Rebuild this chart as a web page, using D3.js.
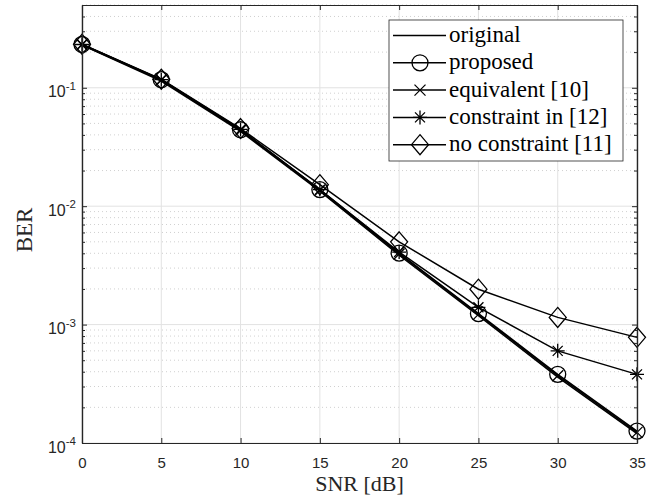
<!DOCTYPE html>
<html>
<head>
<meta charset="utf-8">
<script src="https://cdn.jsdelivr.net/npm/d3@7"></script>
<style>
  body { margin: 0; background: #fff; }
  svg { display: block; }
</style>
</head>
<body>
<div id="chart"></div>
<script>
// SNR [dB] values on the x axis
var snr = [0, 5, 10, 15, 20, 25, 30, 35];

// BER for each scheme
var berOriginal     = [0.229, 0.114, 0.0428, 0.0134, 0.00385, 0.00119, 0.00036, 0.000120];
var berProposed     = [0.232, 0.117, 0.0442, 0.0138, 0.00402, 0.00124, 0.00038, 0.000126];
var berEquivalent   = [0.231, 0.116, 0.0436, 0.0136, 0.00395, 0.00122, 0.00037, 0.000123];
var berConstraint   = [0.232, 0.117, 0.0445, 0.0138, 0.00410, 0.00140, 0.00060, 0.000380];
var berNoConstraint = [0.233, 0.118, 0.0452, 0.0152, 0.00500, 0.00199, 0.00115, 0.000780];

var legendLabels = ["original", "proposed", "equivalent [10]", "constraint in [12]", "no constraint [11]"];
var markerTypes  = ["none", "circle", "cross", "star", "diamond"];
var xTicks = [0, 5, 10, 15, 20, 25, 30, 35];
var yMajor = [1e-4, 1e-3, 1e-2, 1e-1];

var series = [berOriginal, berProposed, berEquivalent, berConstraint, berNoConstraint];

var W = 662, H = 501;
var margin = {top: 5, right: 25, bottom: 58, left: 82};
var width = W - margin.left - margin.right,
    height = H - margin.top - margin.bottom;

var axisColor = "#262626";

var svg = d3.select("#chart").append("svg")
    .attr("width", W)
    .attr("height", H);

var g = svg.append("g")
    .attr("transform", "translate(" + margin.left + "," + margin.top + ")");

var x = d3.scaleLinear().domain([0, 35]).range([0, width]);
var y = d3.scaleLog().domain([1e-4, 0.5]).range([height, 0]);

// minor values 2..9 per decade
var yMinor = [];
[1e-4, 1e-3, 1e-2, 1e-1].forEach(function (d) {
    for (var k = 2; k <= 9; k++) {
        var v = d * k;
        if (v <= 0.5) yMinor.push(v);
    }
});

// grid
var grid = g.append("g");
grid.selectAll(".minor").data(yMinor).enter().append("line")
    .attr("x1", 0).attr("x2", width)
    .attr("y1", function (d) { return y(d); })
    .attr("y2", function (d) { return y(d); })
    .attr("stroke", "#c4c4c4")
    .attr("stroke-width", 0.8)
    .attr("stroke-dasharray", "1,3");
grid.selectAll(".xg").data(xTicks).enter().append("line")
    .attr("x1", function (d) { return x(d); })
    .attr("x2", function (d) { return x(d); })
    .attr("y1", 0).attr("y2", height)
    .attr("stroke", "#e2e2e2")
    .attr("stroke-width", 1);
grid.selectAll(".yg").data(yMajor).enter().append("line")
    .attr("x1", 0).attr("x2", width)
    .attr("y1", function (d) { return y(d); })
    .attr("y2", function (d) { return y(d); })
    .attr("stroke", "#e2e2e2")
    .attr("stroke-width", 1);

// lines
var line = d3.line()
    .x(function (d, i) { return x(snr[i]); })
    .y(function (d) { return y(d); });

series.forEach(function (s) {
    g.append("path")
        .datum(s)
        .attr("fill", "none")
        .attr("stroke", "#000")
        .attr("stroke-width", 1.5)
        .attr("d", line);
});

// markers
function drawMarker(sel, type) {
    if (type === "circle") {
        sel.append("circle").attr("r", 8)
            .attr("fill", "none").attr("stroke", "#000").attr("stroke-width", 1.3);
    } else if (type === "cross") {
        sel.append("path").attr("d", "M-5.5,-5.5L5.5,5.5M-5.5,5.5L5.5,-5.5")
            .attr("stroke", "#000").attr("stroke-width", 1.3);
    } else if (type === "star") {
        sel.append("path").attr("d", "M-7,0L7,0M0,-7L0,7M-5,-5L5,5M-5,5L5,-5")
            .attr("stroke", "#000").attr("stroke-width", 1.3);
    } else if (type === "diamond") {
        sel.append("path").attr("d", "M0,-10L8.5,0L0,10L-8.5,0Z")
            .attr("fill", "none").attr("stroke", "#000").attr("stroke-width", 1.3);
    }
}

series.forEach(function (s, si) {
    if (markerTypes[si] === "none") return;
    s.forEach(function (v, i) {
        var m = g.append("g").attr("transform", "translate(" + x(snr[i]) + "," + y(v) + ")");
        drawMarker(m, markerTypes[si]);
    });
});

// axes (ticks pointing inward, box on all sides)
var fontSans = "'Liberation Sans', Arial, Helvetica, sans-serif";

var xAxis = g.append("g")
    .attr("transform", "translate(0," + height + ")")
    .call(d3.axisBottom(x).tickValues(xTicks).tickSizeInner(-5).tickSizeOuter(0).tickPadding(14));
var xAxisTop = g.append("g")
    .call(d3.axisTop(x).tickValues(xTicks).tickSizeInner(-5).tickSizeOuter(0).tickFormat(""));

var yAxis = g.append("g")
    .call(d3.axisLeft(y).tickValues(yMajor).tickSizeInner(-5).tickSizeOuter(0).tickFormat(""));
var yAxisMinor = g.append("g")
    .call(d3.axisLeft(y).tickValues(yMinor).tickSizeInner(-3).tickSizeOuter(0).tickFormat(""));
var yAxisR = g.append("g")
    .attr("transform", "translate(" + width + ",0)")
    .call(d3.axisRight(y).tickValues(yMajor).tickSizeInner(-5).tickSizeOuter(0).tickFormat(""));
var yAxisRMinor = g.append("g")
    .attr("transform", "translate(" + width + ",0)")
    .call(d3.axisRight(y).tickValues(yMinor).tickSizeInner(-3).tickSizeOuter(0).tickFormat(""));

[xAxis, xAxisTop, yAxis, yAxisMinor, yAxisR, yAxisRMinor].forEach(function (a) {
    a.selectAll("path.domain").attr("stroke", axisColor).attr("stroke-width", 1.2);
    a.selectAll(".tick line").attr("stroke", axisColor).attr("stroke-width", 1);
});
xAxis.selectAll("text")
    .attr("fill", axisColor)
    .style("font-family", fontSans)
    .style("font-size", "15px");

// y tick labels 10^n
var yl = g.append("g");
yMajor.forEach(function (v) {
    var t = yl.append("text")
        .attr("x", -6)
        .attr("y", y(v) + 9.7)
        .attr("text-anchor", "end")
        .attr("fill", axisColor)
        .style("font-family", fontSans)
        .style("font-size", "16px");
    t.append("tspan").text("10");
    t.append("tspan").attr("dy", -7.7).style("font-size", "11.5px").text(String(Math.round(Math.log10(v))));
});

// axis labels
var fontSerif = "'Liberation Serif', 'Times New Roman', serif";
svg.append("text")
    .attr("x", margin.left + width / 2)
    .attr("y", 491)
    .attr("text-anchor", "middle")
    .attr("fill", axisColor)
    .style("font-family", fontSerif)
    .style("font-size", "22px")
    .text("SNR [dB]");
svg.append("text")
    .attr("transform", "translate(32,230) rotate(-90)")
    .attr("text-anchor", "middle")
    .attr("fill", axisColor)
    .style("font-family", fontSerif)
    .style("font-size", "23px")
    .text("BER");

// legend
var leg = svg.append("g").attr("transform", "translate(389,20)");
leg.append("rect")
    .attr("width", 234).attr("height", 141)
    .attr("fill", "#fff")
    .attr("stroke", axisColor)
    .attr("stroke-width", 0.8);
legendLabels.forEach(function (lab, i) {
    var row = leg.append("g").attr("transform", "translate(0," + (15.5 + i * 27.3) + ")");
    row.append("line").attr("x1", 4).attr("x2", 57).attr("y1", 0).attr("y2", 0)
        .attr("stroke", "#000").attr("stroke-width", 1.5);
    var m = row.append("g").attr("transform", "translate(31,0)");
    drawMarker(m, markerTypes[i]);
    row.append("text")
        .attr("x", 60).attr("y", 6.5)
        .attr("fill", "#000")
        .style("font-family", fontSerif)
        .style("font-size", "23px")
        .text(lab);
});
</script>
</body>
</html>
